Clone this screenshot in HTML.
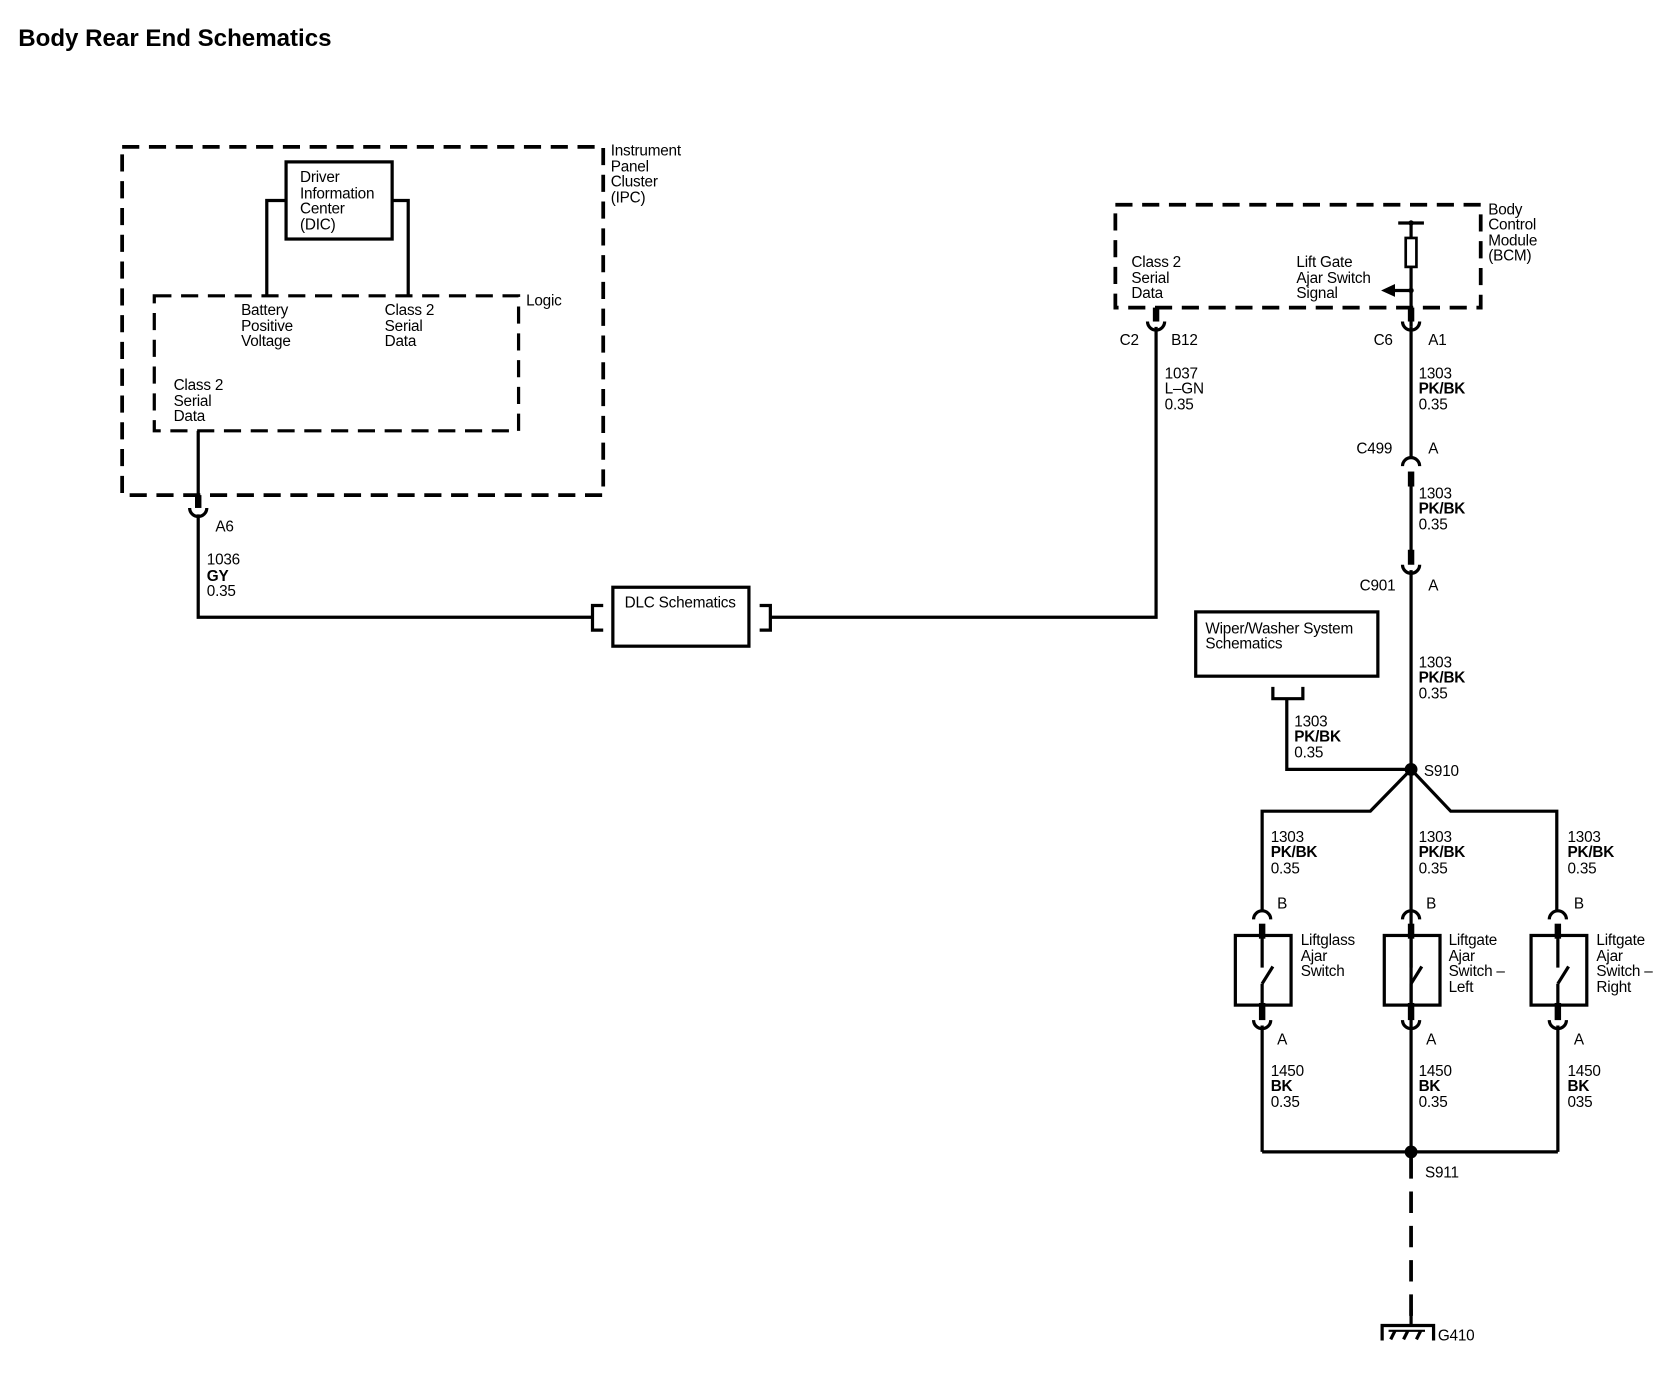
<!DOCTYPE html>
<html><head><meta charset="utf-8"><style>
html,body{margin:0;padding:0;background:#fff;width:1680px;height:1392px;overflow:hidden}
svg{display:block}
text{font-family:"Liberation Sans",Arial,sans-serif;font-size:14.3px;fill:#000;letter-spacing:-0.2px}
.b{font-weight:bold}
</style></head><body>
<svg width="1680" height="1392" viewBox="0 0 1568 1299" xmlns="http://www.w3.org/2000/svg">
<g fill="none" stroke="#000" stroke-width="3">
<!-- IPC -->
<rect x="114" y="137" width="449" height="325" stroke-width="3.5" stroke-dasharray="16 9"/>
<rect x="267" y="151" width="99" height="72"/>
<polyline points="267,187 249,187 249,276"/>
<polyline points="366,187 381,187 381,276"/>
<rect x="144" y="276" width="340" height="126" stroke-dasharray="16 9"/>
<line x1="185" y1="402" x2="185" y2="470"/>
<line x1="185" y1="462" x2="185" y2="474" stroke-width="6"/>
<path d="M177,474 A8,8 0 0 0 193,474"/>
<polyline points="185,480 185,576 553,576"/>
<polyline points="563,565 553,565 553,588 563,588"/>
<rect x="572" y="548" width="127" height="55"/>
<polyline points="709,565 719,565 719,588 709,588"/>
<polyline points="719,576 1079,576 1079,305"/>
<!-- BCM -->
<rect x="1041" y="191" width="341" height="96" stroke-width="3.5" stroke-dasharray="16 9"/>
<line x1="1305" y1="208" x2="1329" y2="208"/>
<line x1="1317" y1="208" x2="1317" y2="222"/>
<rect x="1312" y="222" width="10" height="27" stroke-width="2.5"/>
<line x1="1317" y1="249" x2="1317" y2="305"/>
<line x1="1300" y1="271" x2="1317" y2="271"/>
<line x1="1079" y1="287" x2="1079" y2="300" stroke-width="6"/>
<path d="M1071,300 A8,8 0 0 0 1087,300"/>
<line x1="1317" y1="287" x2="1317" y2="300" stroke-width="6"/>
<path d="M1309,300 A8,8 0 0 0 1325,300"/>
<line x1="1317" y1="305" x2="1317" y2="427"/>
<path d="M1309,435 A8,8 0 0 1 1325,435"/>
<line x1="1317" y1="440" x2="1317" y2="454" stroke-width="6"/>
<line x1="1317" y1="454" x2="1317" y2="515"/>
<line x1="1317" y1="513" x2="1317" y2="527" stroke-width="6"/>
<path d="M1309,527 A8,8 0 0 0 1325,527"/>
<line x1="1317" y1="532" x2="1317" y2="1075"/>
<rect x="1116" y="571" width="170" height="60"/>
<polyline points="1188,641 1188,652 1216,652 1216,641"/>
<polyline points="1201,652 1201,718 1317,718"/>
<polyline points="1317,718 1279,757 1178,757 1178,850"/>
<polyline points="1317,718 1354,757 1453,757 1453,850"/>
<!-- switches -->
<g id="sw">
<path d="M1170,858 A8,8 0 0 1 1186,858"/>
<line x1="1178" y1="862" x2="1178" y2="876" stroke-width="6"/>
<rect x="1153" y="873" width="52" height="65"/>
<line x1="1178" y1="873" x2="1178" y2="903"/>
<line x1="1178" y1="918" x2="1188" y2="902"/>
<line x1="1178" y1="918" x2="1178" y2="938"/>
<line x1="1178" y1="936" x2="1178" y2="952" stroke-width="6"/>
<path d="M1170,952 A8,8 0 0 0 1186,952"/>
</g>
<use href="#sw" x="139"/>
<use href="#sw" x="276"/>
<line x1="1178" y1="957" x2="1178" y2="1075"/>
<line x1="1454" y1="957" x2="1454" y2="1075"/>
<line x1="1178" y1="1075" x2="1454" y2="1075"/>
<line x1="1317" y1="1080" x2="1317" y2="1228" stroke-width="3.5" stroke-dasharray="20 12"/>
<line x1="1317" y1="1222" x2="1317" y2="1237"/>
<polyline points="1290,1251 1290,1237 1338,1237 1338,1251"/>
<line x1="1298" y1="1250" x2="1302" y2="1242"/>
<line x1="1310" y1="1250" x2="1314" y2="1242"/>
<line x1="1322" y1="1250" x2="1326" y2="1242"/>
<line x1="1296" y1="1242" x2="1330" y2="1242" stroke-width="2"/>
</g>
<g fill="#000">
<polygon points="1289,271 1302,265 1302,277"/>
<circle cx="1317" cy="208" r="2.5"/>
<circle cx="1317" cy="271" r="2.5"/>
<circle cx="1317" cy="718" r="6"/>
<circle cx="1317" cy="1075" r="6"/>
</g>
<text x="17" y="43" class="b" style="font-size:22.5px;letter-spacing:0">Body Rear End Schematics</text>
<text x="570" y="145">Instrument</text><text x="570" y="160">Panel</text><text x="570" y="174">Cluster</text><text x="570" y="189">(IPC)</text>
<text x="280" y="170">Driver</text><text x="280" y="185">Information</text><text x="280" y="199">Center</text><text x="280" y="214">(DIC)</text>
<text x="491" y="285">Logic</text>
<text x="225" y="294">Battery</text><text x="225" y="309">Positive</text><text x="225" y="323">Voltage</text>
<text x="359" y="294">Class 2</text><text x="359" y="309">Serial</text><text x="359" y="323">Data</text>
<text x="162" y="364">Class 2</text><text x="162" y="379">Serial</text><text x="162" y="393">Data</text>
<text x="201" y="496">A6</text>
<text x="193" y="527">1036</text><text x="193" y="542" class="b">GY</text><text x="193" y="556">0.35</text>
<text x="583" y="567">DLC Schematics</text>
<text x="1389" y="200">Body</text><text x="1389" y="214">Control</text><text x="1389" y="229">Module</text><text x="1389" y="243">(BCM)</text>
<text x="1056" y="249">Class 2</text><text x="1056" y="264">Serial</text><text x="1056" y="278">Data</text>
<text x="1210" y="249">Lift Gate</text><text x="1210" y="264">Ajar Switch</text><text x="1210" y="278">Signal</text>
<text x="1045" y="322">C2</text><text x="1093" y="322">B12</text>
<text x="1282" y="322">C6</text><text x="1333" y="322">A1</text>
<text x="1087" y="353">1037</text><text x="1087" y="367">L–GN</text><text x="1087" y="382">0.35</text>
<text x="1324" y="353">1303</text><text x="1324" y="367" class="b">PK/BK</text><text x="1324" y="382">0.35</text>
<text x="1266" y="423">C499</text><text x="1333" y="423">A</text>
<text x="1324" y="465">1303</text><text x="1324" y="479" class="b">PK/BK</text><text x="1324" y="494">0.35</text>
<text x="1269" y="551">C901</text><text x="1333" y="551">A</text>
<text x="1125" y="591">Wiper/Washer System</text><text x="1125" y="605">Schematics</text>
<text x="1324" y="623">1303</text><text x="1324" y="637" class="b">PK/BK</text><text x="1324" y="652">0.35</text>
<text x="1208" y="678">1303</text><text x="1208" y="692" class="b">PK/BK</text><text x="1208" y="707">0.35</text>
<text x="1329" y="724">S910</text>
<text x="1186" y="786">1303</text><text x="1186" y="800" class="b">PK/BK</text><text x="1186" y="815">0.35</text>
<text x="1324" y="786">1303</text><text x="1324" y="800" class="b">PK/BK</text><text x="1324" y="815">0.35</text>
<text x="1463" y="786">1303</text><text x="1463" y="800" class="b">PK/BK</text><text x="1463" y="815">0.35</text>
<text x="1192" y="848">B</text><text x="1331" y="848">B</text><text x="1469" y="848">B</text>
<text x="1214" y="882">Liftglass</text><text x="1214" y="897">Ajar</text><text x="1214" y="911">Switch</text>
<text x="1352" y="882">Liftgate</text><text x="1352" y="897">Ajar</text><text x="1352" y="911">Switch –</text><text x="1352" y="926">Left</text>
<text x="1490" y="882">Liftgate</text><text x="1490" y="897">Ajar</text><text x="1490" y="911">Switch –</text><text x="1490" y="926">Right</text>
<text x="1192" y="975">A</text><text x="1331" y="975">A</text><text x="1469" y="975">A</text>
<text x="1186" y="1004">1450</text><text x="1186" y="1018" class="b">BK</text><text x="1186" y="1033">0.35</text>
<text x="1324" y="1004">1450</text><text x="1324" y="1018" class="b">BK</text><text x="1324" y="1033">0.35</text>
<text x="1463" y="1004">1450</text><text x="1463" y="1018" class="b">BK</text><text x="1463" y="1033">035</text>
<text x="1330" y="1099">S911</text>
<text x="1342" y="1251">G410</text>
</svg>
</body></html>
